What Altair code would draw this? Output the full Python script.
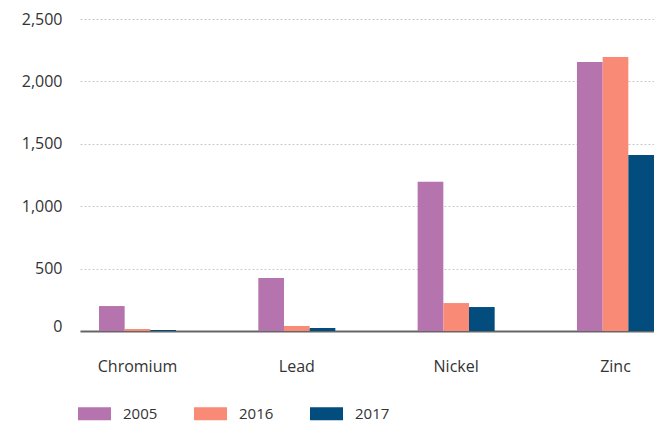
import altair as alt
import pandas as pd

metals = ["Chromium", "Lead", "Nickel", "Zinc"]
years = ["2005", "2016", "2017"]
v2005 = [200, 425, 1195, 2155]
v2016 = [16, 40, 224, 2195]
v2017 = [8, 24, 192, 1410]
colors = ["#b574ae", "#f98a76", "#024c7e"]

rows = []
for i, m in enumerate(metals):
    for y, vals in zip(years, [v2005, v2016, v2017]):
        rows.append({"metal": m, "year": y, "value": vals[i]})
df = pd.DataFrame(rows)

FONT = "Open Sans"

chart = alt.Chart(df).mark_bar().encode(
    x=alt.X("metal:N", sort=metals, title=None,
            scale=alt.Scale(paddingInner=0.5166, paddingOuter=0.0596, align=1.0),
            axis=alt.Axis(labelAngle=0, ticks=False, domain=True, domainColor="#666666",
                          domainWidth=2, labelPadding=27, labelFontSize=16,
                          labelColor="#333333", labelFont=FONT, grid=False)),
    xOffset=alt.XOffset("year:N", sort=years),
    y=alt.Y("value:Q", title=None,
            scale=alt.Scale(domain=[0, 2500], nice=False),
            axis=alt.Axis(values=[0, 500, 1000, 1500, 2000, 2500], format=",.0f",
                          domain=False, ticks=False, labelPadding=18, labelFontSize=16,
                          labelColor="#333333", labelFont=FONT,
                          minExtent=58, maxExtent=58,
                          labelBaseline={"condition": {"test": "datum.value === 0", "value": "alphabetic"}, "value": "middle"},
                          grid=True, gridColor="#c8c8c8", gridDash=[2, 2], gridWidth=1)),
    color=alt.Color("year:N", sort=years, scale=alt.Scale(domain=years, range=colors),
                    legend=alt.Legend(title=None, orient="none", direction="horizontal",
                                      legendX=-10, legendY=387,
                                      symbolType="M-2.54,-1H2.54V1H-2.54Z",
                                      symbolSize=169, symbolStrokeWidth=0, symbolOpacity=1,
                                      symbolOffset=17, labelOffset=21,
                                      labelFontSize=15, labelColor="#333333", labelFont=FONT,
                                      columnPadding=28)),
).properties(
    width=574, height=312,
    padding={"left": 13, "top": 3, "right": 0, "bottom": 0},
).configure_view(stroke=None)

chart.save("out.html", embed_options={"renderer": "svg", "actions": False})
